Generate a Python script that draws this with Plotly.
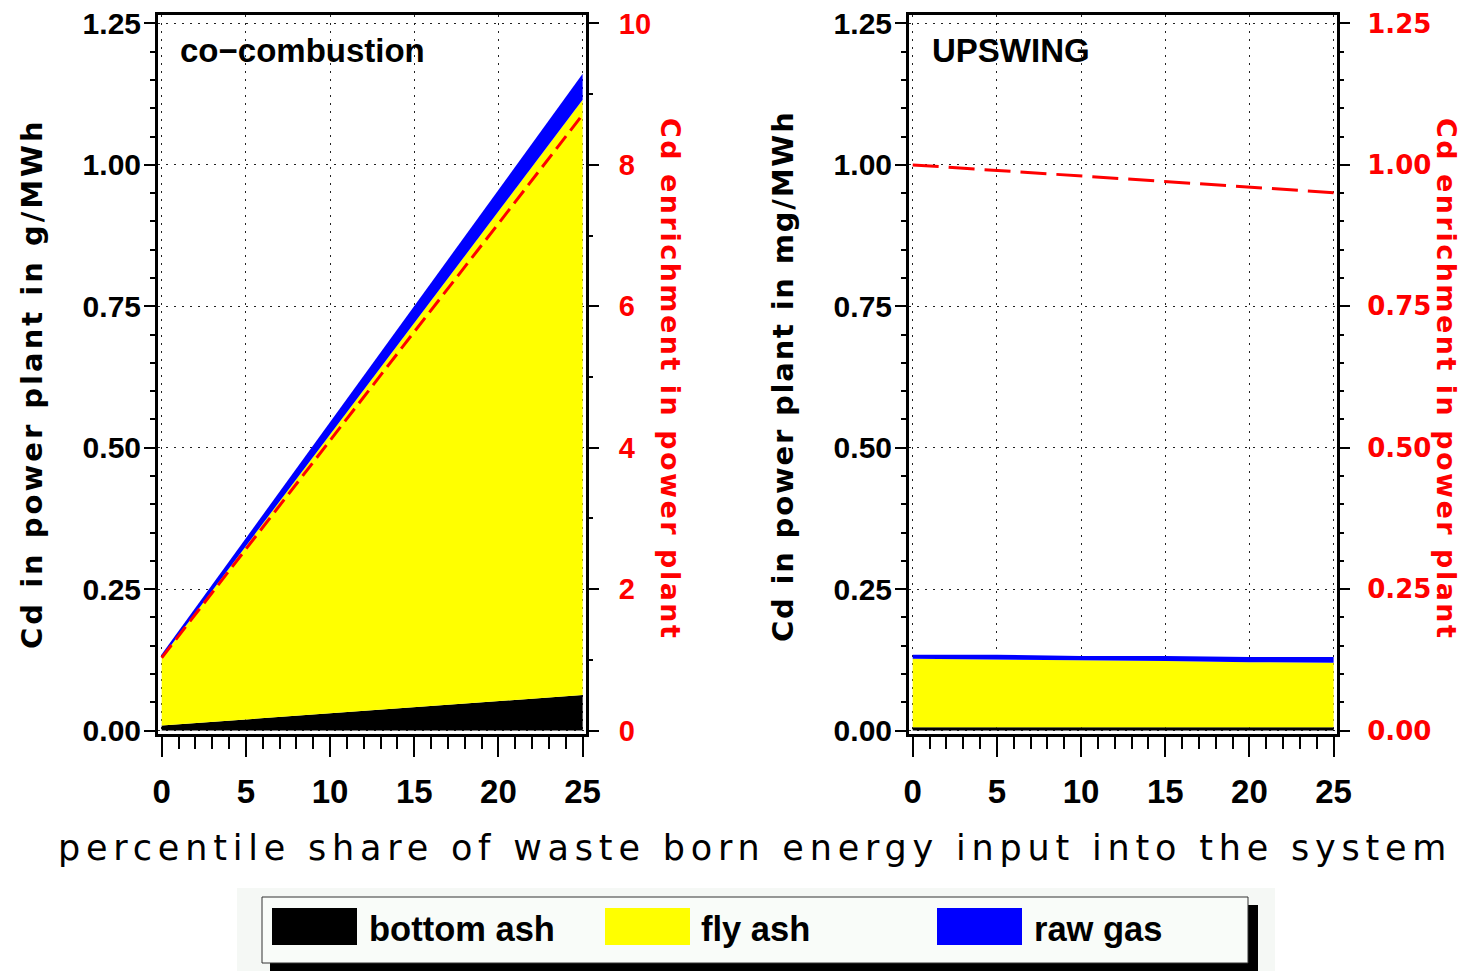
import plotly.graph_objects as go

# ---------------- data ----------------
share = [0, 5, 10, 15, 20, 25]  # percentile share of waste born energy input

# co-combustion (g/MWh), stacked layers
cc_bottom_ash = [0.009, 0.020, 0.031, 0.041, 0.052, 0.063]
cc_fly_ash = [0.120, 0.306, 0.493, 0.679, 0.866, 1.052]
cc_raw_gas = [0.006, 0.014, 0.022, 0.030, 0.038, 0.046]
cc_enrichment = [1.03, 2.57, 4.10, 5.64, 7.17, 8.71]

# UPSWING (mg/MWh), stacked layers
up_bottom_ash = [0.006, 0.006, 0.006, 0.006, 0.006, 0.006]
up_fly_ash = [0.121, 0.120, 0.118, 0.117, 0.115, 0.114]
up_raw_gas = [0.007, 0.008, 0.008, 0.009, 0.009, 0.010]
up_enrichment = [1.000, 0.990, 0.980, 0.970, 0.961, 0.951]

layer_names = ["bottom ash", "fly ash", "raw gas"]
layer_colors = ["#000000", "#ffff00", "#0000ff"]

panel_titles = ["co\u2212combustion", "UPSWING"]
x_title = "percentile share of waste born energy input into the system"
y_title_left = "Cd in power plant in g/MWh"
y_title_right_panel = "Cd in power plant in mg/MWh"
y2_title = "Cd enrichment in power plant"

# ---------------- layout helpers ----------------
W, H = 1466, 971


def px(x):
    return x / W


def py(y):
    return 1 - y / H


def spaced(text, ls):
    return '<span style="letter-spacing:%spx">%s</span>' % (ls, text)


SANS = "Liberation Sans, Arial, sans-serif"
WIDE = "DejaVu Sans, Verdana, sans-serif"

fig = go.Figure()

for layers, enrich, xa, ya, ya2, dash in [
    ((cc_bottom_ash, cc_fly_ash, cc_raw_gas), cc_enrichment, "x", "y", "y2", "16px,7px"),
    ((up_bottom_ash, up_fly_ash, up_raw_gas), up_enrichment, "x2", "y3", "y4", "26px,10px"),
]:
    for vals, name, col in zip(layers, layer_names, layer_colors):
        fig.add_trace(go.Scatter(
            x=share, y=vals, name=name, xaxis=xa, yaxis=ya,
            stackgroup="s" + xa, mode="lines",
            line=dict(width=0, color=col), fillcolor=col, showlegend=False,
        ))
    fig.add_trace(go.Scatter(
        x=share, y=enrich, xaxis=xa, yaxis=ya2, mode="lines",
        line=dict(color="#ff0000", width=3, dash=dash), showlegend=False,
    ))

grid_common = dict(showgrid=True, gridcolor="#222222", gridwidth=1, griddash="2px,6px", zeroline=False)
ydom = [py(734), py(15)]
yrange = [-0.006, 1.265]

xaxis_common = dict(
    range=[-0.22, 25.2], tick0=0, dtick=5, ticks="outside", ticklen=20, tickwidth=1.5,
    tickcolor="black", showline=True, linewidth=3, linecolor="black", mirror=True,
    minor=dict(dtick=1, ticks="outside", ticklen=12, tickwidth=1.5, tickcolor="black", showgrid=False),
    tickfont=dict(family=SANS, size=33, color="black", weight="bold"),
    ticklabelstandoff=6, **grid_common,
)
yaxis_common = dict(
    domain=ydom, range=yrange, tick0=0, dtick=0.25, tickformat=".2f", ticks="outside",
    ticklen=11, tickwidth=1.5, tickcolor="black", showline=True, linewidth=3,
    linecolor="black", mirror=True,
    minor=dict(dtick=0.05, ticks="outside", ticklen=5, tickwidth=1.5, tickcolor="black", showgrid=False),
    tickfont=dict(family=SANS, size=30, color="black", weight="bold"),
    ticklabelstandoff=-3, **grid_common,
)

fig.update_layout(
    autosize=True, margin=dict(l=0, r=0, t=0, b=0, autoexpand=False),
    paper_bgcolor="white", plot_bgcolor="white", showlegend=False,
    xaxis=dict(domain=[px(158), px(586)], anchor="y", **xaxis_common),
    xaxis2=dict(domain=[px(909), px(1337)], anchor="y3", **xaxis_common),
    yaxis=dict(anchor="x", **yaxis_common),
    yaxis3=dict(anchor="x2", **yaxis_common),
    yaxis2=dict(
        overlaying="y", side="right", anchor="x", range=[yrange[0] * 8, yrange[1] * 8],
        tick0=0, dtick=2, ticks="outside", ticklen=12, tickwidth=1.5, tickcolor="black",
        minor=dict(dtick=1, ticks="outside", ticklen=6, tickwidth=1.5, tickcolor="black", showgrid=False),
        showgrid=False, zeroline=False, showline=False,
        tickfont=dict(family=SANS, size=29, color="#ff0000", weight="bold"),
        ticklabelstandoff=14,
    ),
    yaxis4=dict(
        overlaying="y3", side="right", anchor="x2", range=yrange,
        tick0=0, dtick=0.25, tickformat=".2f", ticks="outside", ticklen=12, tickwidth=1.5,
        tickcolor="black",
        minor=dict(dtick=0.05, ticks="outside", ticklen=6, tickwidth=1.5, tickcolor="black", showgrid=False),
        showgrid=False, zeroline=False, showline=False,
        tickfont=dict(family=WIDE, size=26, color="#ff0000", weight="bold"),
        ticklabelstandoff=12,
    ),
)

ann = []
# panel titles
ann.append(dict(x=px(178), y=py(50), text=panel_titles[0], xanchor="left", yanchor="middle",
                font=dict(family=SANS, size=33, color="black", weight="bold")))
ann.append(dict(x=px(930), y=py(50), text=panel_titles[1], xanchor="left", yanchor="middle",
                font=dict(family=SANS, size=33, color="black", weight="bold")))
# axis titles
yt_font = dict(family=WIDE, size=29, color="black", weight="bold")
ann.append(dict(x=px(32), y=py(384), text=spaced(y_title_left, 3), textangle=-90,
                xanchor="center", yanchor="middle", font=yt_font))
ann.append(dict(x=px(783), y=py(376), text=spaced(y_title_right_panel, 1.8), textangle=-90,
                xanchor="center", yanchor="middle", font=yt_font))
red_font = dict(family=WIDE, size=27, color="#ff0000", weight="bold")
ann.append(dict(x=px(671), y=py(379), text=spaced(y2_title, 2.5), textangle=90,
                xanchor="center", yanchor="middle", font=red_font))
ann.append(dict(x=px(1447), y=py(379), text=spaced(y2_title, 2.5), textangle=90,
                xanchor="center", yanchor="middle", font=red_font))
ann.append(dict(x=px(755), y=py(848), text=spaced(x_title, 5.8), xanchor="center",
                yanchor="middle", font=dict(family=WIDE, size=35, color="black")))

# legend (drawn)
shapes = [
    dict(type="rect", xref="paper", yref="paper", x0=px(237), x1=px(1275), y0=py(971), y1=py(888),
         fillcolor="#f5f8f5", line=dict(width=0), layer="below"),
    dict(type="rect", xref="paper", yref="paper", x0=px(270), x1=px(1258), y0=py(971), y1=py(905),
         fillcolor="black", line=dict(width=0)),
    dict(type="rect", xref="paper", yref="paper", x0=px(262), x1=px(1248), y0=py(963), y1=py(897),
         fillcolor="#f9fcf9", line=dict(width=1, color="#333333")),
]
sw_x = [272, 605, 937]
txt_x = [367, 699, 1032]
for sx, tx, name, col in zip(sw_x, txt_x, layer_names, layer_colors):
    shapes.append(dict(type="rect", xref="paper", yref="paper", x0=px(sx), x1=px(sx + 85),
                       y0=py(945), y1=py(908), fillcolor=col, line=dict(width=0)))
    ann.append(dict(x=px(tx), y=py(929), text=name, xanchor="left", yanchor="middle",
                    font=dict(family=SANS, size=34.5, color="black", weight="bold")))

for a in ann:
    a.update(xref="paper", yref="paper", showarrow=False)

fig.update_layout(annotations=ann, shapes=shapes)
fig.write_html(
    "out.html",
    default_width="100vw",
    default_height="100vh",
    config={"responsive": True},
    post_script=(
        "document.documentElement.style.margin='0';"
        "document.body.style.margin='0';document.body.style.padding='0';"
        "document.body.style.overflow='hidden';"
        "Plotly.Plots.resize(document.getElementById('{plot_id}'));"
    ),
)
